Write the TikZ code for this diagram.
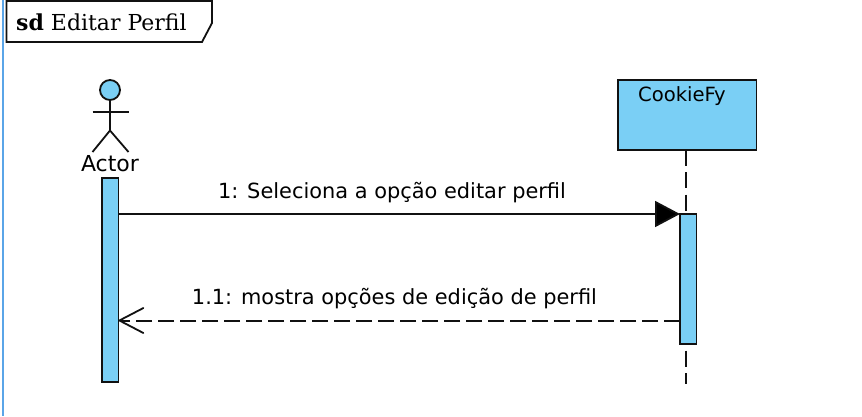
\documentclass[tikz,border=0pt]{standalone}
\usepackage{fontspec}
\setsansfont{DejaVu Sans}
\newfontfamily\titlefont{DejaVu Serif}
\usetikzlibrary{arrows.meta}
\definecolor{umlfill}{HTML}{7ACFF5}
\definecolor{edgeblue}{HTML}{5AA5E8}
\definecolor{inkline}{HTML}{111111}
\tikzset{
  x=1pt,y=-1pt,
  umlline/.style={draw=inkline,line width=1.8pt},
  umlbox/.style={umlline,fill=umlfill,rectangle,inner sep=0pt,outer sep=0pt,anchor=north west},
  lifeline/.style={draw=inkline,line width=1.8pt,dash pattern=on 16pt off 6.3pt},
  umltext/.style={font=\sffamily\fontsize{20.9}{24}\selectfont,text=black,inner sep=0pt,outer sep=0pt},
  synmsg/.style={draw=inkline,line width=1.8pt,-{Triangle[length=25pt,width=26pt,fill=black]}},
  retmsg/.style={draw=inkline,line width=2pt,dash pattern=on 16pt off 6pt,
     -{Straight Barb[length=24pt,width=25pt,line width=1.8pt,round]}}
}
\begin{document}
\begin{tikzpicture}
\useasboundingbox (0,0) rectangle (862,416);
\fill[white] (0,0) rectangle (862,416);
% left edge of the enclosing frame
\draw[edgeblue,line width=2.6pt] (3,0) -- (3,416);
% frame tag
\draw[umlline,line join=miter] (6.5,0.9) -- (212,0.9) -- (212,23) -- (202,42) -- (6.5,42) -- cycle;
\node[anchor=base west,inner sep=0pt,font=\titlefont\fontsize{22}{24}\selectfont] (title) at (16,30) {\textbf{sd} Editar Perfil};
% actor
\node[umlline,fill=umlfill,circle,minimum size=20pt,inner sep=0pt,outer sep=0pt] (head) at (110,90) {};
\coordinate (hip) at (110,130.5);
\coordinate (armL) at (92.5,112.3);
\coordinate (armR) at (128.5,112.3);
\coordinate (footL) at (92.5,152);
\coordinate (footR) at (128.5,152);
\draw[umlline] (head.south) -- (hip);
\draw[umlline] (armL) -- (armR);
\draw[umlline] (footL) -- (hip) -- (footR);
\node[umltext,anchor=base,font=\sffamily\fontsize{22}{24}\selectfont] (actor) at (110,171.5) {Actor};
% lifeline head
\node[umlbox,minimum width=138.5pt,minimum height=70pt] (cookie) at (618,80) {};
\node[umltext,anchor=base,font=\sffamily\fontsize{19.6}{24}\selectfont] (cookielabel) at (682,101.5) {CookieFy};
% activations
\node[umlbox,minimum width=16.5pt,minimum height=204pt] (actA) at (102,178) {};
\coordinate (lifeEnd) at (686.3,384);
\draw[lifeline] (cookie.south -| lifeEnd) -- (lifeEnd);
\node[umlbox,minimum width=16.5pt,minimum height=130pt] (actC) at (680,214) {};
% messages
\coordinate (m2) at (680,320.5);
\draw[synmsg] (actA.east |- actC.north west) -- (actC.north west);
\draw[retmsg] (actC.west |- m2) -- (actA.east |- m2);
\node[umltext,anchor=base] (lab1) at (392,198.5) {1: Seleciona a opção editar perfil};
\node[umltext,anchor=base] (lab2) at (394.5,304.5) {1.1: mostra opções de edição de perfil};
\end{tikzpicture}
\end{document}
